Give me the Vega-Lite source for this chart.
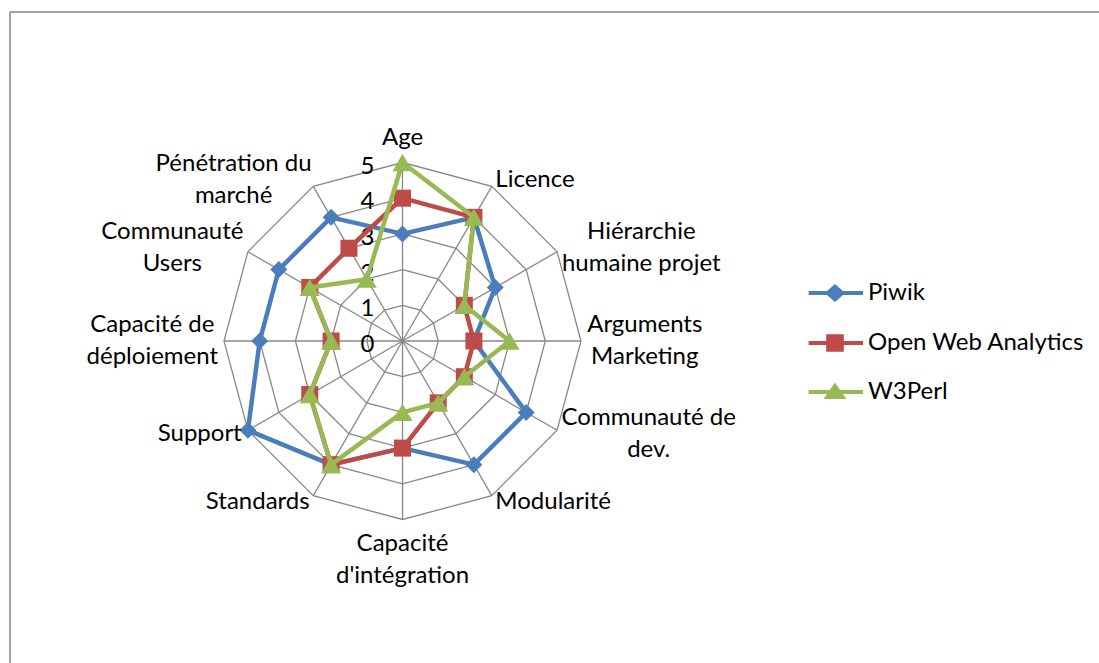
{
  "$schema": "https://vega.github.io/schema/vega-lite/v6.json",
  "width": 1089,
  "height": 651,
  "autosize": {"type": "none"},
  "padding": {"left": 10, "top": 12, "right": 0, "bottom": 0},
  "background": "white",
  "config": {
    "view": {"stroke": null},
    "text": {"font": "Lato"},
    "legend": {"labelFont": "Lato"}
  },
  "datasets": {
    "axes": [
      {"axis": "Age", "label": "Age", "i": 0, "levels": [1, 2, 3, 4, 5]},
      {"axis": "Licence", "label": "Licence", "i": 1, "levels": [1, 2, 3, 4, 5]},
      {"axis": "Hiérarchie humaine projet", "label": "Hiérarchie\nhumaine projet", "i": 2, "levels": [1, 2, 3, 4, 5]},
      {"axis": "Arguments Marketing", "label": "Arguments\nMarketing", "i": 3, "levels": [1, 2, 3, 4, 5]},
      {"axis": "Communauté de dev.", "label": "Communauté de\ndev.", "i": 4, "levels": [1, 2, 3, 4, 5]},
      {"axis": "Modularité", "label": "Modularité", "i": 5, "levels": [1, 2, 3, 4, 5]},
      {"axis": "Capacité d'intégration", "label": "Capacité\nd'intégration", "i": 6, "levels": [1, 2, 3, 4, 5]},
      {"axis": "Standards", "label": "Standards", "i": 7, "levels": [1, 2, 3, 4, 5]},
      {"axis": "Support", "label": "Support", "i": 8, "levels": [1, 2, 3, 4, 5]},
      {"axis": "Capacité de déploiement", "label": "Capacité de\ndéploiement", "i": 9, "levels": [1, 2, 3, 4, 5]},
      {"axis": "Communauté Users", "label": "Communauté\nUsers", "i": 10, "levels": [1, 2, 3, 4, 5]},
      {"axis": "Pénétration du marché", "label": "Pénétration du\nmarché", "i": 11, "levels": [1, 2, 3, 4, 5]}
    ],
    "ticks": [{"level": 0}, {"level": 1}, {"level": 2}, {"level": 3}, {"level": 4}, {"level": 5}],
    "scores": [
      {"series": "Piwik", "axis": "Age", "value": 3},
      {"series": "Piwik", "axis": "Licence", "value": 4},
      {"series": "Piwik", "axis": "Hiérarchie humaine projet", "value": 3},
      {"series": "Piwik", "axis": "Arguments Marketing", "value": 2},
      {"series": "Piwik", "axis": "Communauté de dev.", "value": 4},
      {"series": "Piwik", "axis": "Modularité", "value": 4},
      {"series": "Piwik", "axis": "Capacité d'intégration", "value": 3},
      {"series": "Piwik", "axis": "Standards", "value": 4},
      {"series": "Piwik", "axis": "Support", "value": 5},
      {"series": "Piwik", "axis": "Capacité de déploiement", "value": 4},
      {"series": "Piwik", "axis": "Communauté Users", "value": 4},
      {"series": "Piwik", "axis": "Pénétration du marché", "value": 4},
      {"series": "Open Web Analytics", "axis": "Age", "value": 4},
      {"series": "Open Web Analytics", "axis": "Licence", "value": 4},
      {"series": "Open Web Analytics", "axis": "Hiérarchie humaine projet", "value": 2},
      {"series": "Open Web Analytics", "axis": "Arguments Marketing", "value": 2},
      {"series": "Open Web Analytics", "axis": "Communauté de dev.", "value": 2},
      {"series": "Open Web Analytics", "axis": "Modularité", "value": 2},
      {"series": "Open Web Analytics", "axis": "Capacité d'intégration", "value": 3},
      {"series": "Open Web Analytics", "axis": "Standards", "value": 4},
      {"series": "Open Web Analytics", "axis": "Support", "value": 3},
      {"series": "Open Web Analytics", "axis": "Capacité de déploiement", "value": 2},
      {"series": "Open Web Analytics", "axis": "Communauté Users", "value": 3},
      {"series": "Open Web Analytics", "axis": "Pénétration du marché", "value": 3},
      {"series": "W3Perl", "axis": "Age", "value": 5},
      {"series": "W3Perl", "axis": "Licence", "value": 4},
      {"series": "W3Perl", "axis": "Hiérarchie humaine projet", "value": 2},
      {"series": "W3Perl", "axis": "Arguments Marketing", "value": 3},
      {"series": "W3Perl", "axis": "Communauté de dev.", "value": 2},
      {"series": "W3Perl", "axis": "Modularité", "value": 2},
      {"series": "W3Perl", "axis": "Capacité d'intégration", "value": 2},
      {"series": "W3Perl", "axis": "Standards", "value": 4},
      {"series": "W3Perl", "axis": "Support", "value": 3},
      {"series": "W3Perl", "axis": "Capacité de déploiement", "value": 2},
      {"series": "W3Perl", "axis": "Communauté Users", "value": 3},
      {"series": "W3Perl", "axis": "Pénétration du marché", "value": 2}
    ]
  },
  "encoding": {
    "x": {"field": "px", "type": "quantitative", "scale": {"domain": [-10.9944, 19.5098], "nice": false, "zero": false}, "axis": null},
    "y": {"field": "py", "type": "quantitative", "scale": {"domain": [-9.0196, 9.2157], "nice": false, "zero": false}, "axis": null}
  },
  "layer": [
    {
      "data": {"values": [{"edge": "left"}]},
      "transform": [
        {"calculate": "-10.9944", "as": "px"},
        {"calculate": "9.2157", "as": "py"}
      ],
      "mark": {"type": "rule", "color": "#878787", "strokeWidth": 1.5},
      "encoding": {"y2": {"datum": -40}}
    },
    {
      "data": {"values": [{"edge": "top"}]},
      "transform": [
        {"calculate": "-10.9944", "as": "px"},
        {"calculate": "9.2157", "as": "py"}
      ],
      "mark": {"type": "rule", "color": "#878787", "strokeWidth": 1.5},
      "encoding": {"x2": {"datum": 40}}
    },
    {
      "data": {"name": "axes"},
      "transform": [
        {"flatten": ["levels"], "as": ["level"]},
        {"calculate": "datum.level*sin(datum.i*PI/6)", "as": "px"},
        {"calculate": "datum.level*cos(datum.i*PI/6)", "as": "py"}
      ],
      "mark": {"type": "line", "interpolate": "linear-closed", "color": "#888888", "strokeWidth": 1.3},
      "encoding": {
        "detail": {"field": "level", "type": "nominal"},
        "order": {"field": "i", "type": "quantitative"}
      }
    },
    {
      "data": {"name": "axes"},
      "transform": [
        {"calculate": "5*sin(datum.i*PI/6)", "as": "px"},
        {"calculate": "5*cos(datum.i*PI/6)", "as": "py"}
      ],
      "mark": {"type": "rule", "color": "#888888", "strokeWidth": 1.3},
      "encoding": {
        "x2": {"datum": 0},
        "y2": {"datum": 0}
      }
    },
    {
      "data": {"name": "ticks"},
      "transform": [
        {"calculate": "0", "as": "px"},
        {"calculate": "datum.level", "as": "py"}
      ],
      "mark": {"type": "text", "align": "right", "baseline": "middle", "dx": -28, "dy": 4, "fontSize": 24, "font": "Lato", "color": "#000000"},
      "encoding": {"text": {"field": "level", "type": "quantitative"}}
    },
    {
      "data": {"name": "scores"},
      "transform": [
        {"lookup": "axis", "from": {"data": {"name": "axes"}, "key": "axis", "fields": ["i"]}},
        {"calculate": "datum.value*sin(datum.i*PI/6)", "as": "px"},
        {"calculate": "datum.value*cos(datum.i*PI/6)", "as": "py"},
        {"filter": "datum.series === 'Piwik'"}
      ],
      "mark": {"type": "line", "interpolate": "linear-closed", "strokeWidth": 4.5, "strokeJoin": "round"},
      "encoding": {
        "color": {
          "field": "series", "type": "nominal",
          "scale": {"domain": ["Piwik", "Open Web Analytics", "W3Perl"], "range": ["#4A7EBB", "#BE4B48", "#98B954"]},
          "legend": {
            "orient": "none", "legendX": 813, "legendY": 269, "title": null, "padding": 0,
            "labelFont": "Lato", "labelFontSize": 24, "labelColor": "#000000", "labelOffset": 21, "labelLimit": 400,
            "rowPadding": 20, "symbolSize": 289, "symbolStrokeWidth": 4,
            "encode": {
              "symbols": {
                "update": {
                  "shape": {"signal": "datum.value === 'Piwik' ? 'M-3.1,0H3.3M0,-0.75L0.85,0L0,0.75L-0.85,0Z' : (datum.value === 'W3Perl' ? 'M-3.1,0H3.3M0,-0.7L0.9,0.6L-0.9,0.6Z' : 'M-3.1,0H3.3M-0.8,-0.8H0.8V0.8H-0.8Z')"},
                  "fill": {"scale": "color", "field": "value"},
                  "stroke": {"scale": "color", "field": "value"},
                  "strokeWidth": {"value": 4},
                  "opacity": {"value": 1}
                }
              }
            }
          }
        },
        "order": {"field": "i", "type": "quantitative"}
      }
    },
    {
      "data": {"name": "scores"},
      "transform": [
        {"lookup": "axis", "from": {"data": {"name": "axes"}, "key": "axis", "fields": ["i"]}},
        {"calculate": "datum.value*sin(datum.i*PI/6)", "as": "px"},
        {"calculate": "datum.value*cos(datum.i*PI/6)", "as": "py"},
        {"filter": "datum.series === 'Piwik'"}
      ],
      "mark": {"type": "point", "shape": "diamond", "filled": true, "size": 289, "opacity": 1, "strokeWidth": 0},
      "encoding": {"color": {"field": "series", "type": "nominal"}}
    },
    {
      "data": {"name": "scores"},
      "transform": [
        {"lookup": "axis", "from": {"data": {"name": "axes"}, "key": "axis", "fields": ["i"]}},
        {"calculate": "datum.value*sin(datum.i*PI/6)", "as": "px"},
        {"calculate": "datum.value*cos(datum.i*PI/6)", "as": "py"},
        {"filter": "datum.series === 'Open Web Analytics'"}
      ],
      "mark": {"type": "line", "interpolate": "linear-closed", "strokeWidth": 4.5, "strokeJoin": "round"},
      "encoding": {
        "color": {"field": "series", "type": "nominal"},
        "order": {"field": "i", "type": "quantitative"}
      }
    },
    {
      "data": {"name": "scores"},
      "transform": [
        {"lookup": "axis", "from": {"data": {"name": "axes"}, "key": "axis", "fields": ["i"]}},
        {"calculate": "datum.value*sin(datum.i*PI/6)", "as": "px"},
        {"calculate": "datum.value*cos(datum.i*PI/6)", "as": "py"},
        {"filter": "datum.series === 'Open Web Analytics'"}
      ],
      "mark": {"type": "point", "shape": "square", "filled": true, "size": 289, "opacity": 1, "strokeWidth": 0},
      "encoding": {"color": {"field": "series", "type": "nominal"}}
    },
    {
      "data": {"name": "scores"},
      "transform": [
        {"lookup": "axis", "from": {"data": {"name": "axes"}, "key": "axis", "fields": ["i"]}},
        {"calculate": "datum.value*sin(datum.i*PI/6)", "as": "px"},
        {"calculate": "datum.value*cos(datum.i*PI/6)", "as": "py"},
        {"filter": "datum.series === 'W3Perl'"}
      ],
      "mark": {"type": "line", "interpolate": "linear-closed", "strokeWidth": 4.5, "strokeJoin": "round"},
      "encoding": {
        "color": {"field": "series", "type": "nominal"},
        "order": {"field": "i", "type": "quantitative"}
      }
    },
    {
      "data": {"name": "scores"},
      "transform": [
        {"lookup": "axis", "from": {"data": {"name": "axes"}, "key": "axis", "fields": ["i"]}},
        {"calculate": "datum.value*sin(datum.i*PI/6)", "as": "px"},
        {"calculate": "datum.value*cos(datum.i*PI/6)", "as": "py"},
        {"filter": "datum.series === 'W3Perl'"}
      ],
      "mark": {"type": "point", "shape": "triangle-up", "filled": true, "size": 400, "opacity": 1, "strokeWidth": 0},
      "encoding": {"color": {"field": "series", "type": "nominal"}}
    },
    {
      "data": {"name": "axes"},
      "transform": [
        {"calculate": "sin(datum.i*PI/6)", "as": "sn"},
        {"calculate": "cos(datum.i*PI/6)", "as": "cs"},
        {"calculate": "length(split(datum.label, '\\n'))", "as": "nl"},
        {"filter": "datum.nl === 1 && datum.sn > 0.1"},
        {"calculate": "5.2*datum.sn", "as": "px"},
        {"calculate": "5.2*datum.cs", "as": "py"}
      ],
      "mark": {"type": "text", "align": "left", "baseline": "middle", "fontSize": 24, "font": "Lato", "color": "#000000"},
      "encoding": {"text": {"field": "label", "type": "nominal"}}
    },
    {
      "data": {"name": "axes"},
      "transform": [
        {"calculate": "sin(datum.i*PI/6)", "as": "sn"},
        {"calculate": "cos(datum.i*PI/6)", "as": "cs"},
        {"calculate": "length(split(datum.label, '\\n'))", "as": "nl"},
        {"filter": "datum.nl === 1 && datum.sn < -0.1"},
        {"calculate": "5.2*datum.sn", "as": "px"},
        {"calculate": "5.2*datum.cs", "as": "py"}
      ],
      "mark": {"type": "text", "align": "right", "baseline": "middle", "fontSize": 24, "font": "Lato", "color": "#000000"},
      "encoding": {"text": {"field": "label", "type": "nominal"}}
    },
    {
      "data": {"name": "axes"},
      "transform": [
        {"calculate": "sin(datum.i*PI/6)", "as": "sn"},
        {"calculate": "cos(datum.i*PI/6)", "as": "cs"},
        {"calculate": "length(split(datum.label, '\\n'))", "as": "nl"},
        {"filter": "datum.nl > 1 || abs(datum.sn) <= 0.1"},
        {"calculate": "split(datum.label, '\\n')[0]", "as": "l0"},
        {"calculate": "datum.nl > 1 ? split(datum.label, '\\n')[1] : ''", "as": "l1"},
        {"calculate": "0.52*length(datum.l0) - 0.22*(length(datum.l0) - length(replace(datum.l0, regexp('[ijltrf. \\']', 'g'), ''))) + 0.32*(length(datum.l0) - length(replace(datum.l0, regexp('[mMwW]', 'g'), ''))) + 0.16*(length(datum.l0) - length(replace(datum.l0, regexp('[A-LN-VX-Z]', 'g'), '')))", "as": "w0"},
        {"calculate": "0.52*length(datum.l1) - 0.22*(length(datum.l1) - length(replace(datum.l1, regexp('[ijltrf. \\']', 'g'), ''))) + 0.32*(length(datum.l1) - length(replace(datum.l1, regexp('[mMwW]', 'g'), ''))) + 0.16*(length(datum.l1) - length(replace(datum.l1, regexp('[A-LN-VX-Z]', 'g'), '')))", "as": "w1"},
        {"calculate": "max(datum.w0, datum.w1)*24/2/35.7", "as": "hw"},
        {"calculate": "abs(datum.sn) <= 0.1 ? 0 : 5.2*datum.sn + (datum.sn > 0 ? 1 : -1)*datum.hw", "as": "px"},
        {"calculate": "abs(datum.sn) <= 0.1 ? (datum.cs > 0 ? 5.7 + (datum.nl - 1)*0.896 : -5.7) : 5.2*datum.cs + (datum.nl - 1)*0.448", "as": "py"}
      ],
      "mark": {"type": "text", "align": "center", "baseline": "middle", "fontSize": 24, "font": "Lato", "color": "#000000", "lineBreak": "\n", "lineHeight": 32},
      "encoding": {"text": {"field": "label", "type": "nominal"}}
    }
  ]
}
